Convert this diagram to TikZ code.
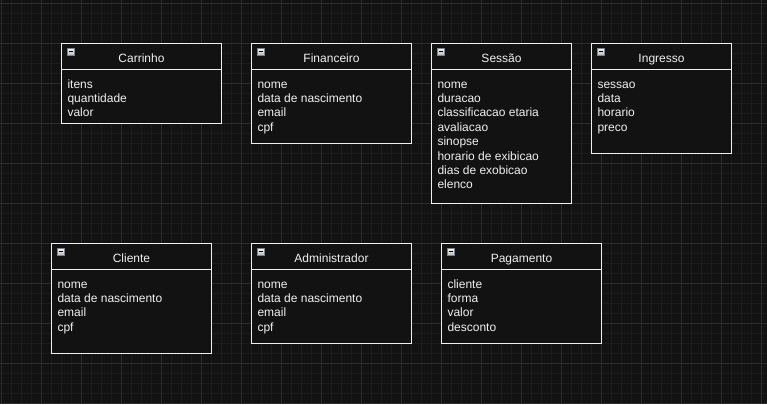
\documentclass[tikz,border=0pt]{standalone}
\usepackage{fontspec}
\setmainfont{Liberation Sans}
\definecolor{bg}{HTML}{121212}
\definecolor{minorgrid}{HTML}{1B1B1B}
\definecolor{majorgrid}{HTML}{2D2D2D}
\definecolor{fg}{HTML}{F0F0F0}
\definecolor{iconedge}{HTML}{7E8090}
\tikzset{
  classbox/.style={draw=fg, fill=bg, line width=1pt, anchor=north west, inner sep=0pt, outer sep=0pt},
  ctitle/.style={text=fg, font=\fontsize{12}{14.4}\selectfont, anchor=base, inner sep=0pt},
  cattr/.style={text=fg, font=\fontsize{12}{14.4}\selectfont, anchor=base west, inner sep=0pt},
  iconbox/.style={draw=iconedge, line width=0.8pt, top color=white!95!gray, bottom color=gray!55!white, minimum size=7pt, inner sep=0pt},
  gridminor/.style={draw=minorgrid, line width=1pt},
  gridmajor/.style={draw=majorgrid, line width=1pt},
}
\newcommand\umlcls[7]{%
  \node[classbox, minimum width=#4pt, minimum height=#5pt] (#1) at (#2,#3) {};
  \draw[fg, line width=1pt] ([yshift=-26pt]#1.north west) -- ([yshift=-26pt]#1.north east);
  \node[iconbox] (#1-ic) at ({#2+9.2},{#3+8.2}) {};
  \draw[black, line width=1.3pt] ([xshift=1.8pt]#1-ic.west) -- ([xshift=-1.8pt]#1-ic.east);
  \node[ctitle] (#1-t) at ({#2+#4/2},{#3+18.8}) {#6};
  \foreach \txt [count=\k] in {#7} {
    \node[cattr] (#1-a\k) at ({#2+5.8},{#3+44.5+14.4*(\k-1)}) {\txt};
  }
}
\begin{document}
\begin{tikzpicture}[x=1pt,y=-1pt]
  \useasboundingbox (0,0) rectangle (767,404);
  \fill[bg] (0,0) rectangle (767,404);
  \foreach \i in {0,...,76} \draw[gridminor] ({1.5+10*\i},0) -- ({1.5+10*\i},404);
  \foreach \j in {0,...,40} \draw[gridminor] (0,{3.5+10*\j}) -- (767,{3.5+10*\j});
  \foreach \i in {0,...,19} \draw[gridmajor] ({1.5+40*\i},0) -- ({1.5+40*\i},404);
  \foreach \j in {0,...,10} \draw[gridmajor] (0,{3.5+40*\j}) -- (767,{3.5+40*\j});

  \umlcls{carrinho}{61.5}{43.5}{160}{80}{Carrinho}{itens,quantidade,valor}
  \umlcls{financeiro}{251.5}{43.5}{160}{100}{Financeiro}{nome,data de nascimento,email,cpf}
  \umlcls{sessao}{431.5}{43.5}{140}{160}{Sessão}{nome,duracao,classificacao etaria,avaliacao,sinopse,horario de exibicao,dias de exobicao,elenco}
  \umlcls{ingresso}{591.5}{43.5}{140}{110}{Ingresso}{sessao,data,horario,preco}
  \umlcls{cliente}{51.5}{243.5}{160}{110}{Cliente}{nome,data de nascimento,email,cpf}
  \umlcls{administrador}{251.5}{243.5}{160}{100}{Administrador}{nome,data de nascimento,email,cpf}
  \umlcls{pagamento}{441.5}{243.5}{160}{100}{Pagamento}{cliente,forma,valor,desconto}
\end{tikzpicture}
\end{document}
